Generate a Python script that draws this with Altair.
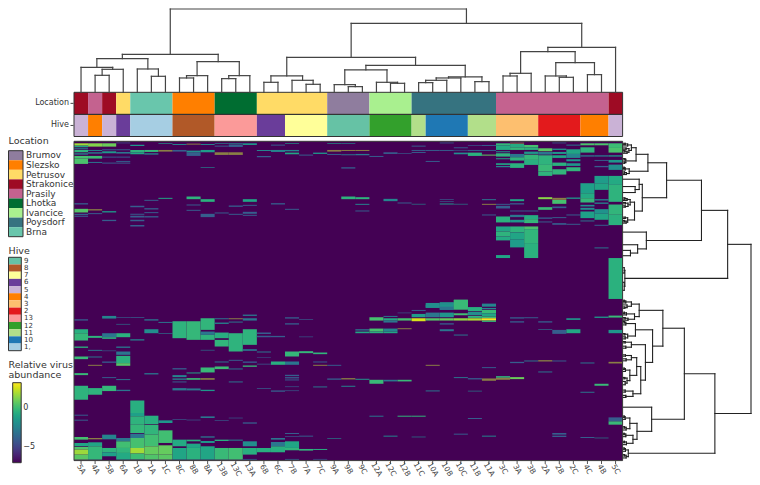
import altair as alt
import pandas as pd

FONT = "DejaVu Sans"
COLS = "5A 4A 5B 6A 1B 1A 1C 8C 8B 8A 13B 13C 13A 6B 6C 7B 7A 7C 9A 9B 9C 12A 12C 12B 11C 10A 10B 10C 11B 11A 3C 3A 3B 2A 2B 2C 4C 4B 5C".split()

LOC_NAMES = ["Brumov", "Slezsko", "Petrusov", "Strakonice", "Prasily", "Lhotka", "Ivancice", "Poysdorf", "Brna"]
LOC_COLORS = ["#8f7d9e", "#ff7f00", "#ffdb66", "#9e0b24", "#c4628f", "#006d31", "#a9f08f", "#367380", "#69c6ac"]
LOC_RUNS = [("Strakonice", 1), ("Prasily", 1), ("Strakonice", 1), ("Petrusov", 1), ("Brna", 3), ("Slezsko", 3),
            ("Lhotka", 3), ("Petrusov", 5), ("Brumov", 3), ("Ivancice", 3), ("Poysdorf", 6), ("Prasily", 8), ("Strakonice", 1)]
HIVE_NAMES = ["9", "8", "7", "6", "5", "4", "3", "2", "13", "12", "11", "10", "1,"]
HIVE_COLORS = ["#66c2a5", "#b15928", "#ffff99", "#6a3d9a", "#cab2d6", "#ff7f00", "#fdbf6f", "#e31a1c", "#fb9a99",
               "#33a02c", "#b2df8a", "#1f78b4", "#a6cee3"]
HIVE_RUNS = [("5", 1), ("4", 1), ("5", 1), ("6", 1), ("1,", 3), ("8", 3), ("13", 3), ("6", 2), ("7", 3), ("9", 3),
             ("12", 3), ("11", 1), ("10", 3), ("11", 2), ("3", 3), ("2", 3), ("4", 2), ("5", 1)]

# (start, end, value) per column, fine rows; value None = the muted olive stripes
UPPER = {
0: [(10,17,1.8),(17,22,-1),(25,28,-2.4),(30,37,-0.4),(40,44,-2.4),(48,56,0.2),(56,72,0.3),(190,194,-4),(207,218,0.5),(222,226,-4),(228,231,-4)],
1: [(10,20,1.3),(30,33,-2.4),(37,41,-2.4),(48,56,0),(66,69,-3),(208,212,None),(220,223,-4)],
2: [(10,20,0.9),(28,31,-4),(34,40,-1.6),(50,53,-4),(68,71,-4),(214,218,-1.5),(240,244,-4)],
3: [(8,10,-4),(28,31,-4),(36,41,-3),(50,53,-4),(63,66,-4),(68,71,-4)],
4: [(14,18,-1.6),(30,38,-0.4),(38,43,-1),(198,202,-4),(222,225,-4),(228,233,-4),(240,244,-4),(256,260,-4)],
5: [(30,36,-0.2),(40,44,-2.4),(180,183,-4),(205,209,-4),(217,220,-4),(229,233,-4)],
6: [(10,12,-1.6),(30,35,None),(174,177,-1)],
7: [(12,15,-2.4),(30,35,-4)],
8: [(11,14,None),(32,38,-2),(38,48,-4),(170,178,-0.4),(194,197,-4),(210,213,-4)],
9: [(12,15,-2.4),(30,37,-1.4),(82,84,-2.4),(178,186,-0.5),(222,232,-4)],
10: [(10,12,-2.4),(17,20,-4),(37,45,None),(218,221,-4)],
11: [(10,13,-2.4),(14,21,-4),(37,45,None),(197,201,-4),(222,225,-4)],
12: [(10,15,-1.6),(178,186,-1),(195,198,-4),(216,222,-4),(225,228,-4)],
13: [(30,33,-2.4),(48,52,-4)],
14: [(14,17,-4),(30,36,-2.4),(190,194,-4)],
15: [(10,12,-1.6),(30,34,-2.4),(38,43,-1),(207,210,-4)],
16: [(44,47,-4)],
17: [(38,42,-1.6)],
18: [(10,12,-1.6),(30,35,None),(42,45,-4)],
19: [(10,12,-2.4),(30,33,None),(43,46,-3),(82,86,-4),(170,178,-0.4)],
20: [(30,33,None),(42,46,-3),(172,178,-0.4),(192,195,-2.4),(212,215,-4)],
21: [(48,51,-4)],
22: [(37,42,-4),(177,184,-2.4)],
23: [(40,42,-4),(188,191,-4)],
24: [(17,20,-4),(30,33,-4),(36,39,-4),(192,194,-2.4)],
25: [(30,33,-4),(63,66,-4)],
26: [(8,10,-3),(30,33,-4),(178,180,-4),(184,186,-4),(191,194,-1.6)],
27: [(22,25,-4),(30,32,-4),(38,43,-2),(192,194,-2.4)],
28: [(16,18,-4),(30,33,-4),(38,48,-0.5)],
29: [(15,18,-4),(30,33,-4),(44,47,0.7),(178,181,-3),(192,195,None),(224,227,-4)],
30: [(10,16,-0.2),(16,30,-0.8),(34,37,-1.6),(40,50,-0.4),(55,58,-1),(70,75,-1),(78,82,-2.4),(192,195,-4),(198,206,-4),(230,248,-0.5),(260,275,-1),(275,290,-0.4),(290,302,-0.8),(346,355,-1)],
31: [(8,11,None),(12,22,-0.7),(22,30,-0.2),(42,52,-3),(52,62,-0.4),(70,84,-0.5),(178,184,-1),(190,194,-4),(212,215,-4),(225,232,-3),(240,248,-1.6),(260,278,-0.4),(278,300,-1),(300,323,-1.4)],
32: [(15,22,0.2),(22,30,-0.5),(35,42,-1.6),(44,60,-0.2),(60,75,-0.6),(212,215,-4),(226,238,-0.7),(238,250,-0.2),(260,268,0.3),(268,310,-0.3),(310,355,-0.5)],
33: [(25,34,0.6),(36,44,-3),(46,75,-0.4),(75,95,-0.1),(95,108,-0.4),(172,178,1.4),(202,210,0),(233,237,-4),(245,248,-4)],
34: [(8,10,-3),(26,30,-1.6),(36,42,-1.6),(46,54,-1),(68,78,-0.5),(88,104,-0.3),(174,180,None),(180,192,0.2),(200,205,-4),(232,235,-4),(250,255,-4)],
35: [(14,17,-3),(28,42,-1),(42,54,-2.4),(58,64,-1.6),(70,78,-1.6),(82,94,-0.3),(173,177,-1.6),(224,227,-4),(252,255,-4)],
36: [(10,16,0.3),(22,38,-0.4),(46,50,-3),(130,160,-1.2),(160,175,-0.8),(175,188,-0.2),(195,200,-2),(204,210,-2),(215,235,-1.2),(242,245,-3)],
37: [(10,16,0.3),(46,50,-3),(60,63,-4),(78,82,-4),(108,130,-1.4),(130,150,-1),(178,182,-2.4),(188,192,-2.4),(208,222,-1.8),(222,240,-1),(255,258,-4),(323,326,-3)],
38: [(10,24,0),(24,38,0.3),(46,50,-1.6),(60,68,-1.6),(74,90,-2),(108,135,-0.8),(135,186,-0.4),(194,225,-0.3),(225,256,-0.5),(355,478,-0.5)],
}
UPPER_LOW = {25: [(490,504,-2)], 26: [(488,510,-1.6)], 27: [(480,510,0)], 28: [(503,510,-0.4)], 29: [(492,500,-2.4)]}
LOWER = {
0: [(58,62,-4),(88,100,-0.6),(100,122,-0.2),(140,144,-0.5),(170,178,-0.1),(220,226,-0.1),(258,300,-0.4),(345,348,-4),(360,363,-4),(412,420,0.2),(430,440,-1),(442,450,0.4),(450,465,1.7),(465,480,0.6)],
1: [(108,114,-0.4),(150,153,-3),(170,173,-3),(195,198,None),(265,285,-0.4),(415,419,None),(428,440,-1),(440,480,-0.2)],
2: [(48,56,-2.4),(100,112,-3),(112,117,-0.5),(152,154,-4),(185,189,-4),(232,235,-4),(258,274,-0.2),(405,419,-2.4),(445,458,-0.4),(458,470,-1.2)],
3: [(52,54,-4),(72,74,-3),(100,112,-0.5),(140,144,-3),(155,165,-3),(168,190,-0.5),(190,198,0.5),(238,241,-3),(270,274,-3),(415,425,-3),(425,445,0.1),(445,460,-0.3),(460,480,-0.8)],
4: [(52,54,-4),(118,122,-2.4),(302,340,-0.6),(340,350,-1.2),(350,375,-0.4),(375,400,-0.2),(402,415,-3),(415,445,0.2),(445,462,1.8),(462,480,0)],
5: [(58,62,-3),(88,100,-2),(220,224,-3),(348,373,-0.6),(375,405,-0.3),(405,440,0.1),(440,465,0.8),(465,480,0.4)],
6: [(66,69,-3),(100,102,-3),(362,370,-1.6),(392,430,0.1),(437,465,0.8),(465,480,0.6)],
7: [(64,115,-0.4),(205,209,-4),(226,232,-2.4),(236,240,-2.4),(245,248,-4),(265,272,-3),(358,360,-4),(420,440,-0.8),(445,480,-1)],
8: [(64,120,-0.2),(218,221,-1),(235,240,0),(266,272,-3),(360,362,-4),(420,425,-0.6),(432,445,-1),(445,480,-0.5)],
9: [(55,90,-0.3),(95,105,-3),(105,120,-0.4),(150,152,-3),(203,218,-0.1),(235,240,None),(270,274,-1.6),(350,355,-3),(410,414,-3),(424,430,-1.6),(440,480,-1)],
10: [(55,58,-3),(68,72,-2.4),(98,115,-0.6),(120,140,-0.3),(185,188,-3),(200,208,0),(362,364,-4),(420,424,-0.6),(445,480,-0.1)],
11: [(55,58,None),(65,68,-3),(100,155,-0.4),(180,183,-4),(206,209,-3),(245,248,-3),(354,356,-4),(420,423,-2.4),(445,480,0.1)],
12: [(44,48,-3),(55,62,-3),(88,135,-0.4),(148,153,-3),(185,189,-4),(197,201,-0.1),(368,372,-4),(425,440,-2),(445,465,-0.6),(478,480,-3)],
13: [(98,102,-4),(108,112,-4),(155,158,-3),(172,174,-4),(192,194,-4),(265,267,-4),(445,458,-0.6)],
14: [(108,112,-4),(185,195,-0.6),(272,276,-4),(415,420,-3),(427,440,-3),(440,458,-0.6)],
15: [(52,56,-4),(70,74,-4),(155,170,-0.2),(185,195,-3),(225,229,-4),(232,236,-4),(239,242,-4),(260,262,-4),(272,274,-4),(400,403,-4),(410,412,-4),(425,445,-1),(445,452,-0.3),(478,480,-3)],
16: [(58,60,-4),(110,112,-4),(154,160,-0.2),(408,411,-4),(448,453,-0.3)],
17: [(158,163,-0.3),(185,188,-4),(195,198,None),(260,263,-3),(448,451,-0.6),(478,480,-4)],
18: [(195,198,-4),(236,240,-4),(415,417,-2.4)],
19: [(235,239,None),(258,261,-2.4)],
20: [(88,92,-3),(95,100,-1),(237,240,-1.6)],
21: [(52,62,0.2),(86,95,0.2),(95,100,-0.6),(240,252,-0.1),(348,351,-3)],
22: [(48,51,-3),(55,62,-0.8),(62,68,-3),(86,95,-2.4),(95,100,-1),(240,245,-3),(408,411,-2.4)],
23: [(38,40,-4),(55,62,0.2),(85,88,None),(240,245,-0.1),(348,351,-0.3)],
24: [(30,33,-4),(42,52,-1.4),(55,64,2.6),(348,351,-0.3),(411,413,-2.4)],
25: [(14,24,-2),(38,52,-3),(55,62,0.5),(195,198,None),(272,275,-3)],
26: [(8,16,-2),(20,30,-3),(38,52,-1.7),(55,62,0.8),(70,74,-4),(88,94,-3)],
27: [(0,28,-0.1),(40,46,0.1),(55,62,1.5),(104,107,-3),(232,235,-3),(402,405,-4)],
28: [(22,34,-0.6),(36,46,-2),(48,54,-0.4),(55,62,1.9),(235,239,-4),(273,275,-2.4),(355,358,-4)],
29: [(14,20,-2.4),(24,28,-2.4),(30,40,-0.1),(40,50,-1),(50,55,0),(55,62,3.1),(62,66,-0.3),(202,205,-4),(236,243,None),(408,411,-2.4)],
30: [(229,234,-0.4),(234,240,None)],
31: [(52,56,-4),(64,68,-4),(186,190,-4),(232,238,0.9)],
32: [(52,55,-4),(182,185,-3)],
33: [(64,68,-4),(88,90,-3),(181,185,None),(215,218,-3)],
34: [(90,102,-4),(182,185,-4),(400,405,-4),(408,412,-4)],
35: [(55,60,-1.6),(88,100,-0.9)],
36: [(188,191,-3),(276,279,-3),(412,415,-4)],
37: [(50,54,-1.6),(252,258,-0.1),(414,416,-2.4)],
38: [(47,53,-0.1),(90,100,-1.6),(186,191,None),(353,365,-4),(365,375,-0.1)],
}
UPPER_SHIFT, LOWER_SHIFT = -4, 477

COL_TREE = (250,
  (114,
    (101, (75, 0, (69, (51, 1, 2), 3)), (70, 4, (48, 5, 6))),
    (92, (50, (43, 7, 8), 9), (50, (41, 10, 11), 12))),
  (207,
    (105,
      (49, (30, 13, 14), (36, 15, (24, 16, 17))),
      (81,
        (67, (23, 18, (17, 19, 20)), (30, 21, (27, 22, 23))),
        (46, (43, (36, (29, 24, 25), 26), 27), (32, 28, 29)))),
    (135,
      (122, (57, (49, 30, 31), 32), (89, (49, 33, (45, 34, 35)), (53, 36, 37))),
      38)))

Q2A = (22, (12, (5, 42.5, 43.5), 44.5), (15, (7, 46, 47), (6, 48.5, 49.5)))
Q2B = (14, (6, 57, 58), (9, (4, 59.5, 60.5), 61.5))
ROW_TREE = (410,
  (335,
    (251,
      (139,
        (79,
          (41, (26, (14, (6, 1.5, 2.5), 3.5), (18, (9, 5, 6), (12, (5, 7, 8), 9))), (8, (5, 13, 14), (4, 15.5, 16.5))),
          (19, (6, (3, 19.5, 20.5), 21.5), (10, (4, 23, 24), 25))),
        (61, (51, 28.5, (38, 34, 38.5)), (36, Q2A, Q2B))),
      (74, 68.25, (46, 77.75, (23, 82, 86)))),
    (5, (3, 95, 99), (3, 106, 112))),
  (294,
    (196,
      (127,
        (51, (26, (8, (3, 119.5, 120.5), 121.5), (12, 123, (5, 124.5, 125.5))),
             (36, (10, (4, 128.5, 129.5), 130.5), (15, (6, 132.5, 133.5), 134.5))),
        (94,
          (39, (8, (4, 135.5, 136.5), 138), (14, (5, 144.5, 145.5), (6, 147, 148.5))),
          (71, (26, (6, 150.5, 151.5), (8, 154, 155.5)),
            (56, (43, (26, (7, 160.5, 161.5), (9, 163.5, 165)),
                  (21, (7, (3, 170.5, 171.5), 173), (12, (5, 177.5, 178.5), (6, 180.5, 183)))),
                 (31, (6, 187, 188.5), (8, 191, 192.5)))))),
      (91, 199.85, (44, (21, (6, (3, 206.5, 207.5), 209), (9, (4, 214.5, 215.5), 217)),
                    (31, (8, (3, 219.5, 220.5), 222), (10, (4, 225.5, 226.5), 228))))),
    (16, (7, (3, 230.5, 231.5), 233), (9, (4, 235.5, 236.5), 238))))


def segments(tree, leaf_shift):
    segs = []

    def walk(node):
        if not isinstance(node, tuple):
            return node + leaf_shift, 0
        h, a, b = node
        pa, ha = walk(a)
        pb, hb = walk(b)
        segs.append(dict(p1=pa, p2=pa, h1=ha, h2=h))
        segs.append(dict(p1=pb, p2=pb, h1=hb, h2=h))
        segs.append(dict(p1=pa, p2=pb, h1=h, h2=h))
        return (pa + pb) / 2, h

    walk(tree)
    return pd.DataFrame(segs)


cells, olive = [], []
for table, shift in ((UPPER, UPPER_SHIFT), (UPPER_LOW, UPPER_SHIFT), (LOWER, LOWER_SHIFT)):
    for col, items in table.items():
        for a, b, v in items:
            rec = dict(c=col, c2=col + 1, r=a + shift, r2=b + shift, v=v)
            (olive if v is None else cells).append(rec)
cells_df = pd.DataFrame([dict(c=0, c2=39, r=0, r2=960, v=-7)] + cells)
olive_df = pd.DataFrame(olive)

X_COL = alt.Scale(domain=[0, 39], range=[66, 614.6], nice=False, zero=False)
Y_FINE = alt.Scale(domain=[0, 960], range=[133.3, 452.6], nice=False, zero=False)
LINE = "#444444"


def xq(f):
    return alt.X(f, type="quantitative", scale=X_COL, axis=None, title=None)


def yq(f, scale):
    return alt.Y(f, type="quantitative", scale=scale, axis=None, title=None)


heat = alt.Chart(cells_df).mark_rect(strokeWidth=0).encode(
    x=xq("c"), x2="c2", y=yq("r", Y_FINE), y2="r2",
    color=alt.Color("v:Q", scale=alt.Scale(domain=[-7, 3.2], scheme="viridis"),
                    legend=alt.Legend(orient="none", legendX=4.7, legendY=374.7, title=None, gradientLength=80,
                                      gradientThickness=8.5, values=[-5, 0], labelFontSize=8, labelFont=FONT,
                                      labelColor="#333333", gradientStrokeColor="#333333", gradientStrokeWidth=1,
                                      direction="vertical")))
olive_l = alt.Chart(olive_df).mark_rect(color="#8a7f45", strokeWidth=0).encode(
    x=xq("c"), x2="c2", y=yq("r", Y_FINE), y2="r2")
heat_box = alt.Chart(pd.DataFrame([dict(c=0, c2=39, r=0, r2=960)])).mark_rect(
    fill=None, stroke="#3a3a3a", strokeWidth=1).encode(x=xq("c"), x2="c2", y=yq("r", Y_FINE), y2="r2")

# annotation bars, one rectangle per run of equal colour
Y_BAR = alt.Scale(domain=[0, 2], range=[84.3, 128.5], nice=False, zero=False)
bars = []
for band, runs, names, colors in ((0, LOC_RUNS, LOC_NAMES, LOC_COLORS), (1, HIVE_RUNS, HIVE_NAMES, HIVE_COLORS)):
    lookup = dict(zip(names, colors))
    pos = 0
    for name, n in runs:
        bars.append(dict(c=pos, c2=pos + n, b=band, b2=band + 1, col=lookup[name]))
        pos += n
bar_l = alt.Chart(pd.DataFrame(bars)).mark_rect(strokeWidth=0).encode(
    x=xq("c"), x2="c2", y=yq("b", Y_BAR), y2="b2", color=alt.Color("col:N", scale=None, legend=None))
bar_sep = alt.Chart(pd.DataFrame([dict(c=0, c2=39, b=0, b2=1), dict(c=0, c2=39, b=1, b2=2)])).mark_rect(
    fill=None, stroke="#333333", strokeWidth=1).encode(x=xq("c"), x2="c2", y=yq("b", Y_BAR), y2="b2")
bar_txt = alt.Chart(pd.DataFrame([dict(b=0.5, t="Location"), dict(b=1.5, t="Hive")])).mark_text(
    align="right", baseline="middle", font=FONT, fontSize=8, color="#333333").encode(
    x=alt.value(61), y=yq("b", Y_BAR), text="t:N")
bar_tick = alt.Chart(pd.DataFrame([dict(b=0.5), dict(b=1.5)])).mark_rule(color="#444444", strokeWidth=1).encode(
    x=alt.value(62.5), x2=alt.value(65.5), y=yq("b", Y_BAR))

# dendrograms
top = segments(COL_TREE, 0.5)
top_l = alt.Chart(top).mark_rule(color=LINE, strokeWidth=1.2, strokeCap="square").encode(
    x=xq("p1"), x2="p2",
    y=yq("h1", alt.Scale(domain=[0, 277], range=[84.3, -8], nice=False, zero=False)), y2="h2")
right = segments(ROW_TREE, 0)
right_l = alt.Chart(right).mark_rule(color="#222222", strokeWidth=1.1, strokeCap="square").encode(
    y=yq("p1", alt.Scale(domain=[0, 240], range=[133.3, 452.6], nice=False, zero=False)), y2="p2",
    x=alt.X("h1", type="quantitative", scale=alt.Scale(domain=[0, 410], range=[615.3, 743], nice=False, zero=False),
            axis=None, title=None), x2="h2")

# column labels
col_df = pd.DataFrame(dict(c=[i + 0.5 for i in range(len(COLS))], t=COLS))
col_tick = alt.Chart(col_df).mark_rule(color="#555555", strokeWidth=1).encode(
    x=xq("c"), y=alt.value(453), y2=alt.value(456))
col_txt = alt.Chart(col_df).mark_text(angle=60, align="center", baseline="middle", font=FONT, fontSize=7.5,
                                      color="#444444").encode(x=xq("c"), y=alt.value(461.5), text="t:N")

# legends
Y_LOC = alt.Scale(domain=[0, 9], range=[142.7, 228.7], nice=False, zero=False)
loc_df = pd.DataFrame(dict(i=range(9), i2=range(1, 10), m=[i + 0.5 for i in range(9)], t=LOC_NAMES, col=LOC_COLORS))
loc_sw = alt.Chart(loc_df).mark_rect(strokeWidth=0).encode(
    x=alt.value(0.5), x2=alt.value(15), y=yq("i", Y_LOC), y2="i2", color=alt.Color("col:N", scale=None, legend=None))
loc_tx = alt.Chart(loc_df).mark_text(align="left", baseline="middle", font=FONT, fontSize=9, color="#333333").encode(
    x=alt.value(18), y=yq("m", Y_LOC), text="t:N")
loc_box = alt.Chart(pd.DataFrame([dict(i=0, i2=9)])).mark_rect(fill=None, stroke="#333333", strokeWidth=1).encode(
    x=alt.value(0.5), x2=alt.value(15), y=yq("i", Y_LOC), y2="i2")

Y_HIVE = alt.Scale(domain=[0, 13], range=[249.3, 342.7], nice=False, zero=False)
hive_df = pd.DataFrame(dict(i=range(13), i2=range(1, 14), m=[i + 0.5 for i in range(13)], t=HIVE_NAMES, col=HIVE_COLORS))
hive_sw = alt.Chart(hive_df).mark_rect(strokeWidth=0).encode(
    x=alt.value(0.5), x2=alt.value(13.3), y=yq("i", Y_HIVE), y2="i2", color=alt.Color("col:N", scale=None, legend=None))
hive_tx = alt.Chart(hive_df).mark_text(align="left", baseline="middle", font=FONT, fontSize=7, color="#333333").encode(
    x=alt.value(16), y=yq("m", Y_HIVE), text="t:N")
hive_box = alt.Chart(pd.DataFrame([dict(i=0, i2=13)])).mark_rect(fill=None, stroke="#333333", strokeWidth=1).encode(
    x=alt.value(0.5), x2=alt.value(13.3), y=yq("i", Y_HIVE), y2="i2")

titles = pd.DataFrame([
    dict(t="Location", px=0.5, py=136),
    dict(t="Hive", px=0.5, py=246),
    dict(t="Relative virus", px=0.5, py=359.7),
    dict(t="abundance", px=0.5, py=370),
])
title_l = alt.Chart(titles).mark_text(align="left", baseline="alphabetic", font=FONT, fontSize=9.5, color="#333333").encode(
    x=alt.X("px:Q", scale=None, axis=None), y=alt.Y("py:Q", scale=None, axis=None), text="t:N")

chart = alt.layer(
    heat, olive_l, heat_box, bar_l, bar_sep, bar_txt, bar_tick, top_l, right_l, col_tick, col_txt,
    loc_sw, loc_box, loc_tx, hive_sw, hive_box, hive_tx, title_l,
).resolve_scale(x="independent", y="independent", color="independent").properties(
    width=744, height=469, padding=0, autosize=alt.AutoSizeParams(type="none"), background="white"
).configure_view(stroke=None)

chart.save("out.html", embed_options={"renderer": "svg", "actions": False})
